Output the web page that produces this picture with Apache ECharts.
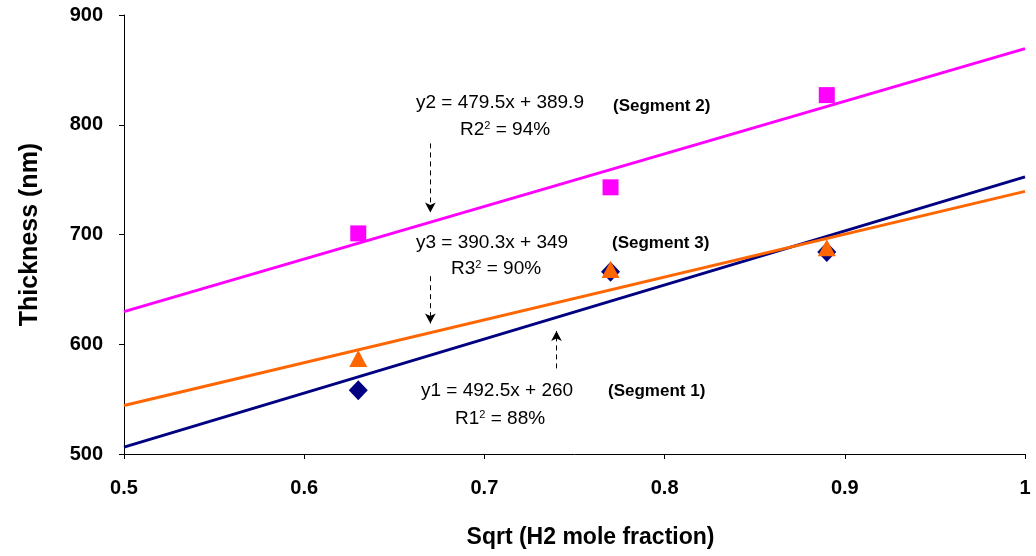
<!DOCTYPE html>
<html><head><meta charset="utf-8">
<script src="https://cdn.jsdelivr.net/npm/echarts@6/dist/echarts.min.js"></script>
<style>html,body{margin:0;padding:0;background:#fff}#c{width:1036px;height:556px}</style>
</head><body><div id="c"></div>
<script>
const xValues = [0.63, 0.77, 0.89];
const seg1 = [558, 666, 684];
const seg2 = [701, 743, 827];
const seg3 = [587, 668, 688];
const trendX = [0.5, 1.0];
const trend1 = [506.3, 752.5];
const trend2 = [629.7, 869.4];
const trend3 = [544.2, 739.3];
const xTicks = [0.5, 0.6, 0.7, 0.8, 0.9, 1];
const yTicks = [500, 600, 700, 800, 900];

const pair = (xs, ys) => xs.map((x, i) => [x, ys[i]]);
const FONT = 'Liberation Sans';

const chart = echarts.init(document.getElementById('c'));
const arrowStyle = { color: '#000', type: [5, 4], width: 1 };
function arrowLine(x, y0, y1) {
  return {
    silent: true, symbol: ['none', 'arrow'], symbolSize: [8, 10],
    lineStyle: arrowStyle, label: { show: false },
    data: [[{ coord: [x, y0] }, { coord: [x, y1] }]]
  };
}
const eqStyle = {
  fontFamily: FONT, fontSize: 19, fill: '#000',
  rich: { s: { fontFamily: FONT, fontSize: 11, verticalAlign: 'top', padding: [0, 0, 7, 0] } }
};
function eq(left, top, text) {
  return { type: 'text', left: left, top: top, style: Object.assign({ text: text }, eqStyle) };
}
function segLabel(left, top, text) {
  return { type: 'text', left: left, top: top, style: { text: text, fontFamily: FONT, fontSize: 17, fontWeight: 'bold', fill: '#000' } };
}

chart.setOption({
  animation: false,
  backgroundColor: '#fff',
  grid: { left: 124, right: 11, top: 15, bottom: 102, containLabel: false },
  xAxis: {
    type: 'value', min: 0.5, max: 1, interval: 0.1,
    name: 'Sqrt (H2 mole fraction)', nameLocation: 'middle', nameGap: 72,
    nameTextStyle: { fontFamily: FONT, fontSize: 23, fontWeight: 'bold', color: '#000', padding: [0, 0, 0, 32] },
    axisLine: { show: true, lineStyle: { color: '#000', width: 1 } },
    axisTick: { show: true, length: 5, lineStyle: { color: '#000' } },
    axisLabel: { fontFamily: FONT, fontSize: 20, fontWeight: 'bold', color: '#000', margin: 24,
      formatter: v => { const t = xTicks.find(k => Math.abs(k - v) < 1e-6); return t === undefined ? '' : String(t); } },
    splitLine: { show: false }
  },
  yAxis: {
    type: 'value', min: 500, max: 900, interval: 100,
    name: 'Thickness (nm)', nameLocation: 'middle', nameGap: 81,
    nameTextStyle: { fontFamily: FONT, fontSize: 25, fontWeight: 'bold', color: '#000' },
    axisLine: { show: true, lineStyle: { color: '#000', width: 1 } },
    axisTick: { show: true, length: 5, lineStyle: { color: '#000' } },
    axisLabel: { fontFamily: FONT, fontSize: 20, fontWeight: 'bold', color: '#000', margin: 21,
      formatter: v => { const t = yTicks.find(k => k === v); return t === undefined ? '' : String(t); } },
    splitLine: { show: false }
  },
  series: [
    { type: 'line', data: pair(trendX, trend2), symbol: 'none', lineStyle: { color: '#FF00FF', width: 3 }, z: 2, silent: true },
    { type: 'line', data: pair(trendX, trend1), symbol: 'none', lineStyle: { color: '#000080', width: 3 }, z: 2, silent: true },
    { type: 'line', data: pair(trendX, trend3), symbol: 'none', lineStyle: { color: '#FF6600', width: 3 }, z: 2, silent: true },
    { type: 'scatter', data: pair(xValues, seg2), symbol: 'rect', symbolSize: 16, itemStyle: { color: '#FF00FF', opacity: 1 }, z: 3,
      markLine: arrowLine(0.67, 783, 720) },
    { type: 'scatter', data: pair(xValues, seg1), symbol: 'diamond', symbolSize: [19, 20], itemStyle: { color: '#000080', opacity: 1 }, z: 3,
      markLine: arrowLine(0.74, 578, 612) },
    { type: 'scatter', data: pair(xValues, seg3), symbol: 'triangle', symbolSize: [18, 17], itemStyle: { color: '#FF6600', opacity: 1 }, z: 4,
      markLine: arrowLine(0.67, 662, 619) }
  ],
  graphic: [
    eq(416, 93, 'y2 = 479.5x + 389.9'),
    eq(460, 120, 'R2{s|2} = 94%'),
    segLabel(613, 98, '(Segment 2)'),
    eq(416, 233, 'y3 = 390.3x + 349'),
    eq(451, 259, 'R3{s|2} = 90%'),
    segLabel(612, 235, '(Segment 3)'),
    eq(421, 381, 'y1 = 492.5x + 260'),
    eq(455, 409, 'R1{s|2} = 88%'),
    segLabel(608, 383, '(Segment 1)')
  ]
});
</script></body></html>
